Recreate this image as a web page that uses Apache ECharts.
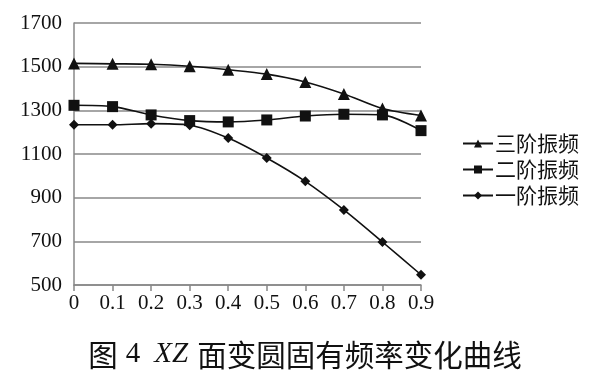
<!DOCTYPE html>
<html><head><meta charset="utf-8">
<script src="https://cdn.jsdelivr.net/npm/echarts@6/dist/echarts.min.js"></script>
<style>html,body{margin:0;padding:0;background:#fff}#c{width:615px;height:380px}</style>
</head><body><div id="c"></div>
<script>
const xValues = [0, 0.1, 0.2, 0.3, 0.4, 0.5, 0.6, 0.7, 0.8, 0.9];
const third = [1515, 1513, 1511, 1502, 1486, 1466, 1430, 1375, 1308, 1276];
const second = [1323, 1317, 1279, 1253, 1247, 1256, 1274, 1282, 1279, 1207];
const first = [1234, 1234, 1239, 1232, 1173, 1082, 975, 844, 697, 547];
const seriesNames = ['三阶振频', '二阶振频', '一阶振频'];
const pair = arr => xValues.map((x, i) => [x, arr[i]]);
const serif = 'Liberation Serif, Times New Roman, serif';
const cjk = 'Noto Sans CJK SC, sans-serif';
const chart = echarts.init(document.getElementById('c'));
const lineStyle = {color: '#111', width: 1.6};
chart.setOption({
  animation: false,
  grid: {left: 74, right: 194, top: 23, bottom: 95},
  title: {
    text: '图{n|4}{i|XZ}面变圆固有频率变化曲线',
    left: 300, textAlign: 'center', top: 335,
    textStyle: {fontFamily: cjk, fontSize: 29.5, fontWeight: 'normal', color: '#111',
      rich: {
        i: {fontFamily: serif, fontStyle: 'italic', fontSize: 29, color: '#111', padding: [0, 9, 0, 0]},
        n: {fontFamily: serif, fontSize: 29, color: '#111', padding: [0, 14, 0, 8]}
      }}
  },
  legend: {
    orient: 'vertical', left: 457, top: 128, itemGap: 5, itemWidth: 30, itemHeight: 10,
    textStyle: {fontFamily: cjk, fontSize: 21, color: '#111', padding: [0,0,0,-3]},
    data: seriesNames.map(n => ({name: n}))
  },
  xAxis: {
    type: 'value', min: 0, max: 0.9, interval: 0.1,
    axisLine: {show: true, lineStyle: {color: '#888', width: 1.5}},
    axisTick: {show: true, length: 6, lineStyle: {color: '#888', width: 1.5}},
    splitLine: {show: false},
    axisLabel: {fontFamily: serif, fontSize: 21, color: '#111', margin: 8,
      formatter: v => String(Math.round(v * 10) / 10)}
  },
  yAxis: {
    type: 'value', min: 500, max: 1700, interval: 200,
    axisLine: {show: true, lineStyle: {color: '#888', width: 1.5}},
    axisTick: {show: false},
    splitLine: {lineStyle: {color: '#888', width: 1.5}},
    axisLabel: {fontFamily: serif, fontSize: 21, color: '#111', margin: 12,
      formatter: v => String(v)}
  },
  series: [
    {name: seriesNames[0], type: 'line', data: pair(third), smooth: 0.3, symbol: 'triangle', symbolSize: 12,
     lineStyle, itemStyle: {color: '#111'}},
    {name: seriesNames[1], type: 'line', data: pair(second), smooth: 0.3, symbol: 'rect', symbolSize: 11,
     lineStyle, itemStyle: {color: '#111'}},
    {name: seriesNames[2], type: 'line', data: pair(first), smooth: 0.3, symbol: 'diamond', symbolSize: 10,
     lineStyle, itemStyle: {color: '#111'}}
  ]
});
</script></body></html>
